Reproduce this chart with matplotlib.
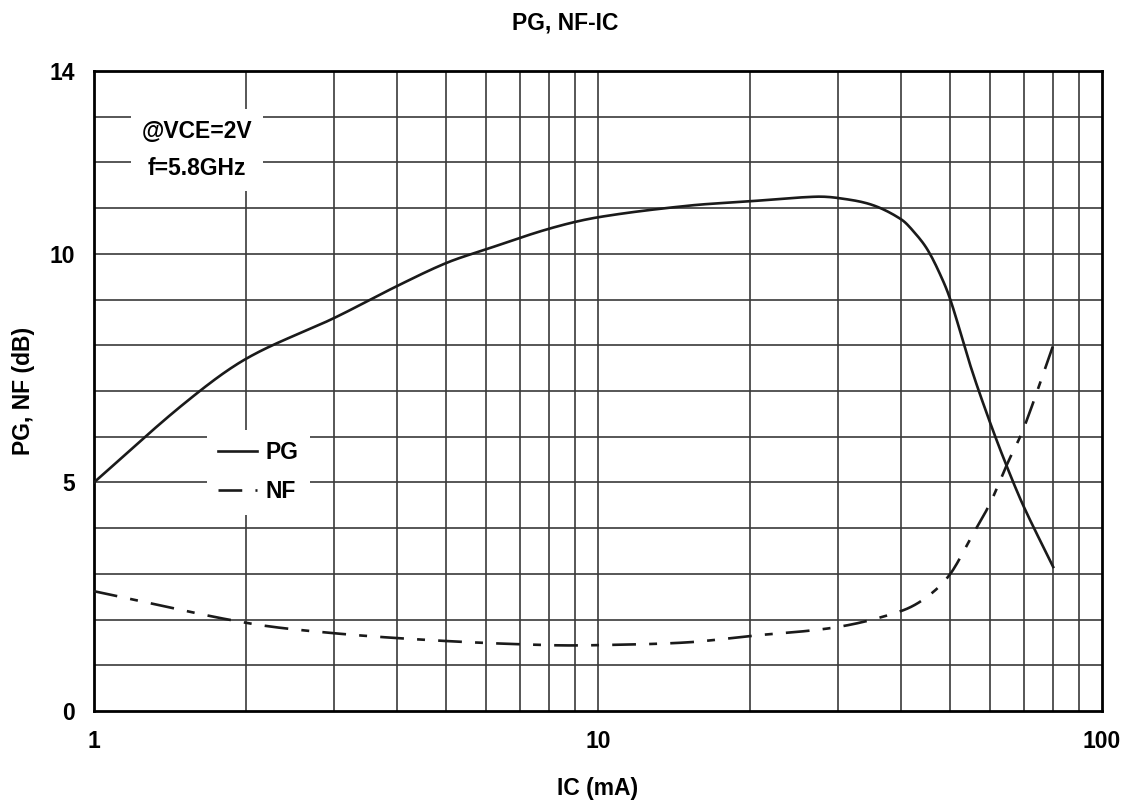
import numpy as np
import matplotlib
matplotlib.use("Agg")
import matplotlib.pyplot as plt

plt.rcParams["font.family"] = ["Liberation Sans", "DejaVu Sans"]

# PG vs IC
pg_ic = [1, 1.5, 2, 3, 4, 5, 6, 8, 10, 15, 20, 27, 30, 35, 40, 42.5, 45, 47.5, 50, 55, 60,
         65, 70, 80]
pg = [5.0, 6.7, 7.7, 8.6, 9.3, 9.8, 10.1, 10.55, 10.8, 11.05, 11.15, 11.25, 11.22, 11.07,
      10.75, 10.46, 10.1, 9.6, 9.0, 7.5, 6.3, 5.3, 4.46, 3.15]
# NF vs IC
nf_ic = [1, 2, 3, 5, 8, 10, 15, 20, 30, 40, 45, 50, 55, 60, 65, 70, 80]
nf = [2.62, 1.93, 1.7, 1.53, 1.44, 1.44, 1.5, 1.64, 1.84, 2.19, 2.5, 3.0, 3.8, 4.55,
      5.43, 6.2, 8.0]

fig = plt.figure(figsize=(11.31, 8.05), dpi=100)
ax = fig.add_axes([0.0831, 0.1168, 0.8913, 0.795])

def smooth(xs, ys):
    # cubic hermite through the read points, in log x
    lx = np.log10(xs)
    t = np.linspace(lx[0], lx[-1], 500)
    out = []
    for v in t:
        i = min(np.searchsorted(lx, v, side="right") - 1, len(lx) - 2)
        i0, i3 = max(i - 1, 0), min(i + 2, len(lx) - 1)
        h = lx[i + 1] - lx[i]
        s = (v - lx[i]) / h
        m1 = (ys[i + 1] - ys[i0]) / (lx[i + 1] - lx[i0]) * h
        m2 = (ys[i3] - ys[i]) / (lx[i3] - lx[i]) * h
        h00 = 2*s**3 - 3*s**2 + 1; h10 = s**3 - 2*s**2 + s
        h01 = -2*s**3 + 3*s**2; h11 = s**3 - s**2
        out.append(h00*ys[i] + h10*m1 + h01*ys[i + 1] + h11*m2)
    return 10**t, np.array(out)

x1, y1 = smooth(pg_ic, pg)
x2, y2 = smooth(nf_ic, nf)
ax.plot(x1, y1, color="#1a1a1a", lw=1.9, label="PG", zorder=3)
ax.plot(x2, y2, color="#1a1a1a", lw=1.9, dashes=(9, 5, 3, 5), label="NF", zorder=3)

ax.set_xscale("log")
ax.set_xlim(1, 100)
ax.set_ylim(0, 14)
ax.set_xticks([1, 10, 100], ["1", "10", "100"])
ax.set_xticks([], minor=True)
ax.set_yticks([0, 5, 10, 14])
for v in list(range(2, 10)) + list(range(20, 100, 10)) + [10]:
    ax.axvline(v, color="#3a3a3a", lw=1.2, zorder=1)
for v in range(1, 14):
    ax.axhline(v, color="#3a3a3a", lw=1.2, zorder=1)
ax.tick_params(length=0, labelsize=16.5, pad=14)
for lab in ax.get_xticklabels() + ax.get_yticklabels():
    lab.set_fontweight("bold")
for s in ax.spines.values():
    s.set_linewidth(2)

ax.set_xlabel("IC (mA)", fontsize=16.5, fontweight="bold", labelpad=17)
ax.set_ylabel("PG, NF (dB)", fontsize=16.5, fontweight="bold", labelpad=10)
fig.text(0.5, 0.972, "PG, NF-IC", ha="center", va="center", fontsize=16.5, fontweight="bold")

ax.text(1.6, 12.27, "@VCE=2V\nf=5.8GHz", ha="center", va="center", fontsize=16.5,
        fontweight="bold", linespacing=1.75, zorder=4,
        bbox=dict(facecolor="white", edgecolor="none", pad=8))

leg = ax.legend(loc="center", bbox_to_anchor=(0.163, 0.373), frameon=True,
                handlelength=1.7, handletextpad=0.35, labelspacing=0.7, borderpad=0.5,
                prop=dict(weight="bold", size=16.5))
leg.get_frame().set_facecolor("white")
leg.get_frame().set_edgecolor("none")
leg.get_frame().set_alpha(1)
leg.set_zorder(5)

fig.savefig("out.png", dpi=100)
